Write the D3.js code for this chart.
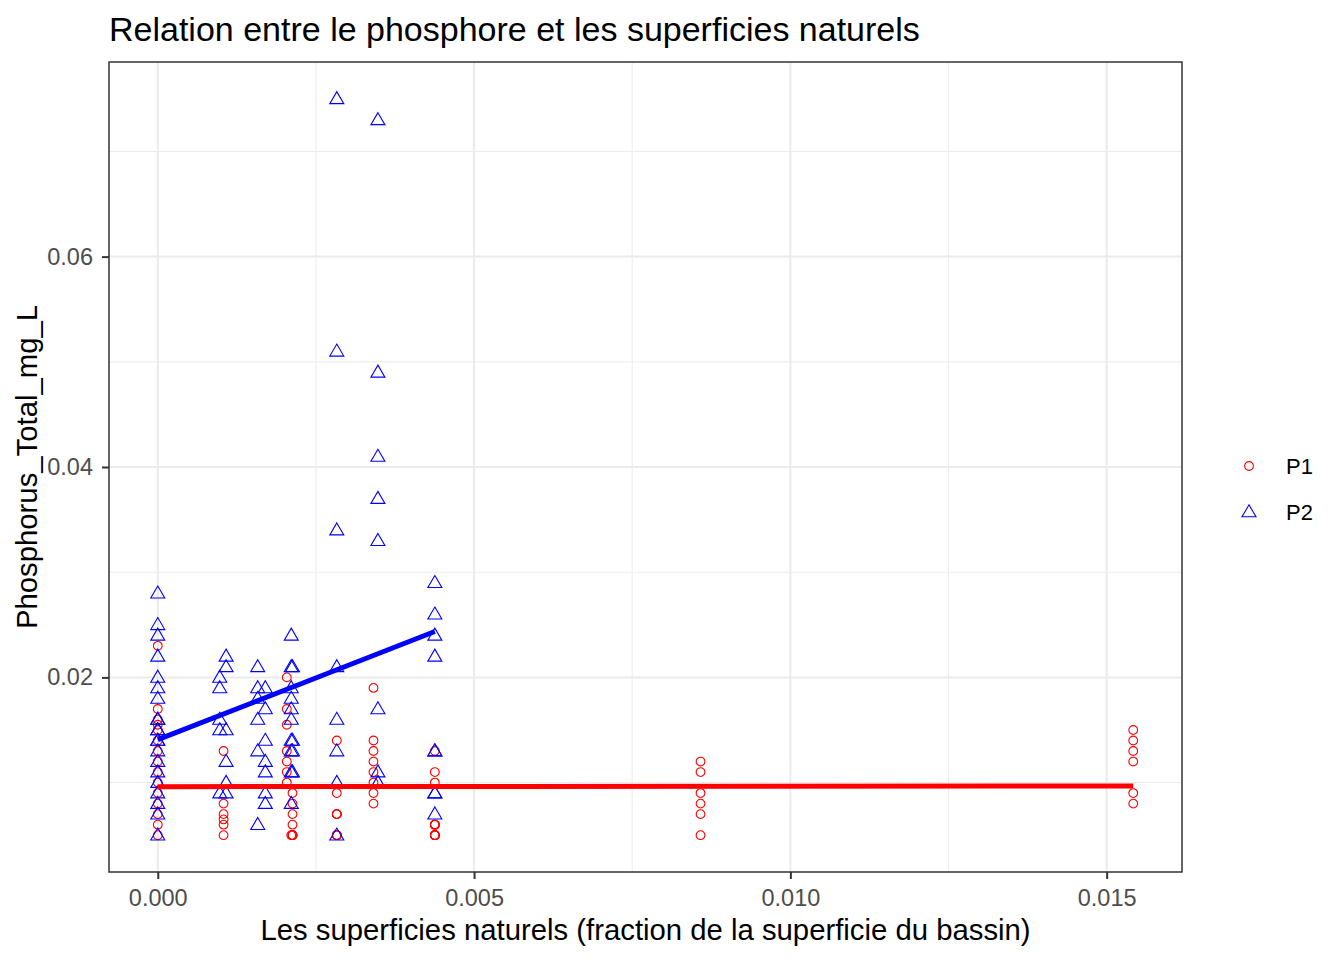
<!DOCTYPE html>
<html>
<head>
<meta charset="utf-8">
<script src="https://cdn.jsdelivr.net/npm/d3@7"></script>
<style>
  body { margin: 0; background: #fff; }
  text { font-family: "Liberation Sans", Arial, sans-serif; }
</style>
</head>
<body>
<script>
// P1 (cercles rouges) - plusieurs valeurs a 0.005 se superposent
var p1X = [0,0,0,0,0,0,0,0,0,0,0,0,0,0,0,
  0.00104,0.00104,0.00104,0.00104,0.00104,0.00104,
  0.00204,0.00204,0.00204,0.00204,0.00204,0.00204,0.00204,
  0.00213,0.00213,0.00213,0.00213,0.00213,0.00211,0.00213,0.00213,
  0.00283,0.00283,0.00283,0.00283,0.00283,0.00283,0.00283,0.00283,0.00283,
  0.00341,0.00341,0.00341,0.00341,0.00341,0.00341,0.00341,0.00341,
  0.00438,0.00438,0.00438,0.00438,0.00438,0.00438,0.00438,0.00438,0.00438,0.00438,0.00438,0.00438,
  0.00858,0.00858,0.00858,0.00858,0.00858,0.00858,
  0.01542,0.01542,0.01542,0.01542,0.01542,0.01542];
var p1Y = [0.023,0.017,0.016,0.0155,0.015,0.014,0.013,0.012,0.011,0.010,0.009,0.008,0.007,0.006,0.005,
  0.013,0.008,0.007,0.0065,0.006,0.005,
  0.020,0.017,0.0155,0.013,0.012,0.011,0.010,
  0.009,0.008,0.007,0.006,0.005,0.005,0.005,0.005,
  0.014,0.009,0.007,0.005,0.005,0.005,0.005,0.007,0.007,
  0.019,0.014,0.013,0.012,0.011,0.010,0.009,0.008,
  0.013,0.011,0.010,0.006,0.005,0.005,0.005,0.005,0.005,0.006,0.006,0.006,
  0.012,0.011,0.009,0.008,0.007,0.005,
  0.015,0.014,0.013,0.012,0.009,0.008];

// P2 (triangles bleus)
var p2X = [0,0,0,0,0,0,0,0,0,0,0,0,0,0,0,0,0,0,0,0,0,
  0.00098,0.00098,0.00098,0.00098,0.00098,
  0.00108,0.00108,0.00108,0.00108,0.00108,0.00108,
  0.00158,0.00158,0.00158,0.00158,0.00158,0.00158,
  0.0017,0.0017,0.0017,0.0017,0.0017,0.0017,0.0017,
  0.00211,0.00211,0.00213,0.00211,0.00211,0.00211,0.00211,0.00211,0.00213,0.00211,0.00213,0.00211,0.00213,0.00211,
  0.00283,0.00283,0.00283,0.00283,0.00283,0.00283,0.00283,0.00283,
  0.00348,0.00348,0.00348,0.00348,0.00348,0.00348,0.00348,0.00348,
  0.00438,0.00438,0.00438,0.00438,0.00438,0.00438,0.00438,0.00438,0.00438];
var p2Y = [0.028,0.025,0.024,0.022,0.020,0.019,0.018,0.016,0.015,0.014,0.013,0.012,0.011,0.010,0.009,0.008,0.007,0.005,0.016,0.015,0.014,
  0.020,0.019,0.016,0.015,0.009,
  0.022,0.021,0.015,0.012,0.010,0.009,
  0.021,0.019,0.018,0.016,0.013,0.006,
  0.019,0.017,0.014,0.012,0.011,0.009,0.008,
  0.024,0.021,0.021,0.019,0.018,0.017,0.016,0.014,0.014,0.013,0.013,0.011,0.011,0.008,
  0.075,0.051,0.034,0.021,0.016,0.013,0.010,0.005,
  0.073,0.049,0.041,0.037,0.033,0.017,0.011,0.010,
  0.029,0.026,0.024,0.022,0.013,0.009,0.007,0.013,0.009];

var groups = ["P1", "P2"];
var colors = ["red", "blue"];
var xTicks = [0, 0.005, 0.010, 0.015];
var xMinor = [0.0025, 0.0075, 0.0125];
var yTicks = [0.02, 0.04, 0.06];
var yMinor = [0.01, 0.03, 0.05, 0.07];

var width = 1344, height = 960;
var margin = {top: 62, right: 162, bottom: 88, left: 109};

var series = [
  {name: groups[0], color: colors[0], pts: p1X.map((x, i) => ({x: x, y: p1Y[i]}))},
  {name: groups[1], color: colors[1], pts: p2X.map((x, i) => ({x: x, y: p2Y[i]}))}
];
var all = series[0].pts.concat(series[1].pts);

// domaine avec 5% d'expansion comme ggplot
var xr = d3.extent(all, d => d.x), yr = d3.extent(all, d => d.y);
var xp = (xr[1] - xr[0]) * 0.05, yp = (yr[1] - yr[0]) * 0.05;

var x = d3.scaleLinear()
  .domain([xr[0] - xp, xr[1] + xp])
  .range([margin.left, width - margin.right]);
var y = d3.scaleLinear()
  .domain([yr[0] - yp, yr[1] + yp])
  .range([height - margin.bottom, margin.top]);

// regression lineaire (geom_smooth method = lm)
function lm(pts) {
  var mx = d3.mean(pts, d => d.x), my = d3.mean(pts, d => d.y);
  var sxy = d3.sum(pts, d => (d.x - mx) * (d.y - my));
  var sxx = d3.sum(pts, d => (d.x - mx) * (d.x - mx));
  var b = sxy / sxx;
  return {a: my - b * mx, b: b, x0: d3.min(pts, d => d.x), x1: d3.max(pts, d => d.x)};
}

var svg = d3.select("body").append("svg")
  .attr("width", width).attr("height", height);

svg.append("rect").attr("width", width).attr("height", height).attr("fill", "white");

var grid = svg.append("g");
grid.selectAll(".xmin").data(xMinor).enter().append("line")
  .attr("x1", d => x(d)).attr("x2", d => x(d))
  .attr("y1", margin.top).attr("y2", height - margin.bottom)
  .attr("stroke", "#EBEBEB").attr("stroke-width", 1);
grid.selectAll(".ymin").data(yMinor).enter().append("line")
  .attr("y1", d => y(d)).attr("y2", d => y(d))
  .attr("x1", margin.left).attr("x2", width - margin.right)
  .attr("stroke", "#EBEBEB").attr("stroke-width", 1);
grid.selectAll(".xmaj").data(xTicks).enter().append("line")
  .attr("x1", d => x(d)).attr("x2", d => x(d))
  .attr("y1", margin.top).attr("y2", height - margin.bottom)
  .attr("stroke", "#EBEBEB").attr("stroke-width", 2);
grid.selectAll(".ymaj").data(yTicks).enter().append("line")
  .attr("y1", d => y(d)).attr("y2", d => y(d))
  .attr("x1", margin.left).attr("x2", width - margin.right)
  .attr("stroke", "#EBEBEB").attr("stroke-width", 2);

var circle = d3.symbol().type(d3.symbolCircle).size(60);
var tri = "M0,-7.2L7,4.8L-7,4.8Z";

// points
series.forEach(function(s, i) {
  svg.append("g").selectAll("path").data(s.pts).enter().append("path")
    .attr("transform", d => `translate(${x(d.x)},${y(d.y)})`)
    .attr("d", i === 0 ? circle() : tri)
    .attr("fill", "none").attr("stroke", s.color).attr("stroke-width", 1.1);
});

// droites de regression
series.forEach(function(s) {
  var f = lm(s.pts);
  svg.append("line")
    .attr("x1", x(f.x0)).attr("y1", y(f.a + f.b * f.x0))
    .attr("x2", x(f.x1)).attr("y2", y(f.a + f.b * f.x1))
    .attr("stroke", s.color).attr("stroke-width", 5);
});

// cadre
svg.append("rect")
  .attr("x", margin.left).attr("y", margin.top)
  .attr("width", width - margin.left - margin.right)
  .attr("height", height - margin.top - margin.bottom)
  .attr("fill", "none").attr("stroke", "#333333").attr("stroke-width", 1.5);

// axes
var gx = svg.append("g")
  .attr("transform", `translate(0,${height - margin.bottom})`)
  .call(d3.axisBottom(x).tickValues(xTicks).tickFormat(d3.format(".3f")).tickSize(7).tickPadding(10));
var gy = svg.append("g")
  .attr("transform", `translate(${margin.left},0)`)
  .call(d3.axisLeft(y).tickValues(yTicks).tickFormat(d3.format(".2f")).tickSize(7).tickPadding(9));
[gx, gy].forEach(function(g) {
  g.select(".domain").remove();
  g.selectAll(".tick line").attr("stroke", "#333333").attr("stroke-width", 2);
  g.selectAll(".tick text").attr("fill", "#4D4D4D")
    .style("font-size", "23.5px").style("font-family", "'Liberation Sans', Arial, sans-serif");
});

// titres
svg.append("text")
  .attr("x", margin.left).attr("y", 41)
  .style("font-size", "34px").attr("fill", "black")
  .text("Relation entre le phosphore et les superficies naturels");
svg.append("text")
  .attr("x", (margin.left + width - margin.right) / 2).attr("y", 940)
  .attr("text-anchor", "middle").style("font-size", "29.3px")
  .text("Les superficies naturels (fraction de la superficie du bassin)");
svg.append("text")
  .attr("transform", `translate(37,${(margin.top + height - margin.bottom) / 2}) rotate(-90)`)
  .attr("text-anchor", "middle").style("font-size", "29.3px")
  .text("Phosphorus_Total_mg_L");

// legende
var leg = svg.append("g");
series.forEach(function(s, i) {
  var ly = 466 + i * 46;
  leg.append("path")
    .attr("transform", `translate(1249,${ly})`)
    .attr("d", i === 0 ? circle() : tri)
    .attr("fill", "none").attr("stroke", s.color).attr("stroke-width", 1.1);
  leg.append("text")
    .attr("x", 1286).attr("y", ly + 8)
    .style("font-size", "22px").text(s.name);
});
</script>
</body>
</html>
